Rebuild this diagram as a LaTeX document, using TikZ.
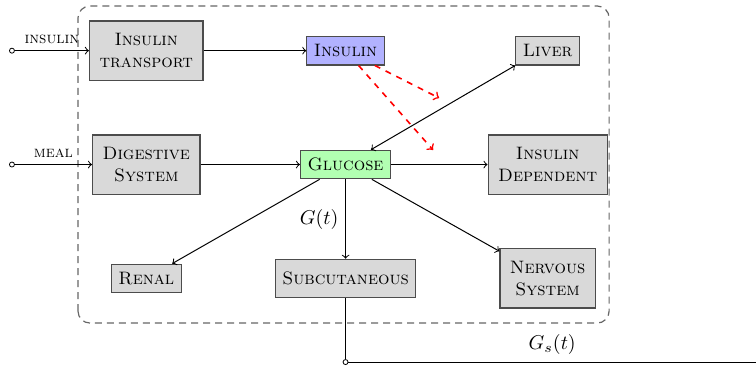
\documentclass[tikz,border=0pt]{standalone}
\begin{document}
\begin{tikzpicture}[line width=0.5pt,
    block/.style={draw=black!70,semithick,fill=black!15,font=\small\scshape,align=center,inner sep=3.5pt,minimum height=0.5cm},
    bigblock/.style={block,inner xsep=5pt,minimum height=1.04cm},
    port/.style={circle,draw,line width=0.4pt,inner sep=0pt,minimum size=2.5pt},
    insulin action/.style={red,dashed,thick,->},
  ]
    \useasboundingbox (-6.07,-3.594) rectangle (7.21,2.89);
    %% System boundary
    \draw[black!60,semithick,dash pattern=on 3.5pt off 2.5pt,rounded corners=6pt] (-4.7,-2.785) rectangle (4.63,2.785);
    %% Blocks
    \node[bigblock] (transport) at (-3.5,2) {Insulin\\transport};
    \node[block,fill=blue!30] (insulin) at (0,2) {Insulin};
    \node[block] (liver) at (3.55,2) {Liver};
    \node[bigblock] (digestive) at (-3.5,0) {Digestive\\System};
    \node[block,fill=green!30] (glucose) at (0,0) {Glucose};
    \node[bigblock] (dependent) at (3.55,0) {Insulin\\Dependent};
    \node[block] (renal) at (-3.5,-2) {Renal};
    \node[block,minimum height=0.67cm] (subcut) at (0,-2) {Subcutaneous};
    \node[bigblock] (nervous) at (3.55,-2) {Nervous\\System};
    %% Inputs
    \node[port] (uin) at (-5.86,2) {};
    \node[port] (mealin) at (-5.86,0) {};
    \draw[->] (uin) -- (transport) node[midway,above,font=\footnotesize\scshape] {insulin};
    \draw[->] (mealin) -- (digestive) node[midway,above,font=\footnotesize\scshape] {meal};
    %% Flows
    \draw[->] (transport) -- (insulin);
    \draw[->] (digestive) -- (glucose);
    \draw[->] (glucose) -- (dependent);
    \draw[<->] (liver.south west) -- (glucose);
    \draw[->] (glucose) -- (renal);
    \draw[->] (glucose) -- (nervous);
    \draw[->] (glucose) -- (subcut) node[midway,left] {$G(t)$};
    %% Insulin action
    \coordinate (act1) at (1.643,1.169);
    \coordinate (act2) at (1.538,0.255);
    \draw[insulin action] (insulin) -- (act1);
    \draw[insulin action] (insulin) -- (act2);
    %% Output
    \node[port] (gsout) at (0,-3.47) {};
    \coordinate (gsend) at (7.21,-3.47);
    \draw (subcut) -- (gsout);
    \draw (gsout) -- (gsend) node[midway,above] {$G_s(t)$};
\end{tikzpicture}
\end{document}
